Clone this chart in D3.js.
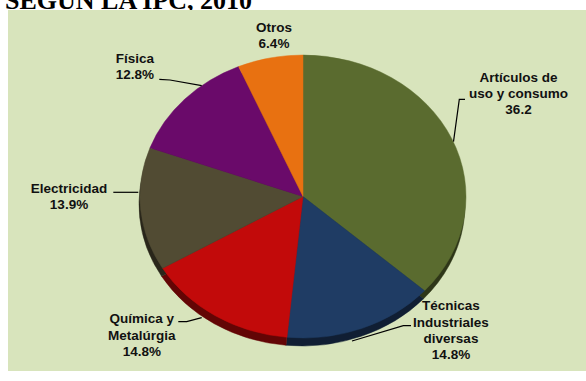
<!DOCTYPE html>
<html>
<head>
<meta charset="utf-8">
<script src="https://cdn.jsdelivr.net/npm/d3@7"></script>
<style>
  html, body { margin: 0; padding: 0; background: #ffffff; }
  svg { display: block; }
</style>
</head>
<body>
<svg id="chart" width="586" height="381"></svg>
<script>
// Patentes por área tecnológica (IPC), 2010
const categories = [
  "Artículos de uso y consumo",
  "Técnicas Industriales diversas",
  "Química y Metalúrgia",
  "Electricidad",
  "Física",
  "Otros"
];
const values = [36.2, 14.8, 14.8, 13.9, 12.8, 6.4];
const valueLabels = ["36.2", "14.8%", "14.8%", "13.9%", "12.8%", "6.4%"];
const colors = ["#5a6b2f", "#1f3c64", "#c20a0a", "#514b33", "#6a0a6a", "#e87111"];

// Label text blocks: line list, centre x, centre y of first line, leader polyline
const labelLayout = [
  { lines: ["Artículos de", "uso y consumo"], x: 518.5, y: 77, leader: [[465, 99.3], [459.3, 99.3], [453.5, 141.7]] },
  { lines: ["Técnicas", "Industriales", "diversas"], x: 451, y: 305.5, leader: [[411, 325.7], [403.3, 325.7], [352, 341]] },
  { lines: ["Química y", "Metalúrgia"], x: 141.8, y: 318.5, leader: [[178.3, 321.7], [186.7, 321.7], [201.7, 317.7]] },
  { lines: ["Electricidad"], x: 69, y: 188.3, leader: [[113.3, 192.3], [138.3, 192.3]] },
  { lines: ["Física"], x: 134.8, y: 58.3, leader: [[159.3, 79.3], [170, 80], [201.7, 85.7]] },
  { lines: ["Otros"], x: 274, y: 26.7, leader: null }
];

const svg = d3.select("#chart");
const W = 586, H = 381;

// Title (partially cut off at the top edge)
svg.append("text")
  .attr("x", 5)
  .attr("y", 9)
  .attr("font-family", "'Liberation Serif', 'Times New Roman', serif")
  .attr("font-weight", "bold")
  .attr("font-size", 26)
  .attr("fill", "#000")
  .text("SEGÚN LA IPC, 2010");

// Plot panel
svg.append("rect")
  .attr("x", 8).attr("y", 10)
  .attr("width", W - 8).attr("height", 361)
  .attr("fill", "#d8e4bc");

// Pie geometry (tilted pie: ellipse)
const cx = 303, cy = 196.5, rx = 163, ry = 141.5;
const yScale = ry / rx;

const pieData = d3.pie().sort(null).value(d => d)(values);
const arc = d3.arc().innerRadius(0).outerRadius(rx);

// Depth / shadow layer
const depthLayer = svg.append("g")
  .attr("transform", `translate(${cx - 1},${cy + 8}) scale(1,${yScale})`);
depthLayer.selectAll("path")
  .data(pieData)
  .join("path")
  .attr("d", arc)
  .attr("fill", (d, i) => d3.color(colors[i]).darker(1.9))
  .attr("stroke", (d, i) => d3.color(colors[i]).darker(1.9))
  .attr("stroke-width", 0.5);

// Top surface
const surfaceLayer = svg.append("g")
  .attr("transform", `translate(${cx},${cy}) scale(1,${yScale})`);
surfaceLayer.selectAll("path")
  .data(pieData)
  .join("path")
  .attr("d", arc)
  .attr("fill", (d, i) => colors[i])
  .attr("stroke", (d, i) => colors[i])
  .attr("stroke-width", 0.5);

// Labels
const fontSize = 13.5, lineH = 16.3;
const labelLayer = svg.append("g")
  .attr("font-family", "'Liberation Sans', Arial, sans-serif")
  .attr("font-weight", "bold")
  .attr("font-size", fontSize)
  .attr("fill", "#111")
  .attr("text-anchor", "middle");

labelLayout.forEach((L, i) => {
  const allLines = L.lines.concat([valueLabels[i]]);
  allLines.forEach((t, k) => {
    labelLayer.append("text")
      .attr("x", L.x)
      .attr("y", L.y + k * lineH + 4.8)
      .text(t);
  });
  if (L.leader) {
    svg.append("path")
      .attr("d", d3.line()(L.leader))
      .attr("fill", "none")
      .attr("stroke", "#000")
      .attr("stroke-width", 1.2);
  }
});
</script>
</body>
</html>
